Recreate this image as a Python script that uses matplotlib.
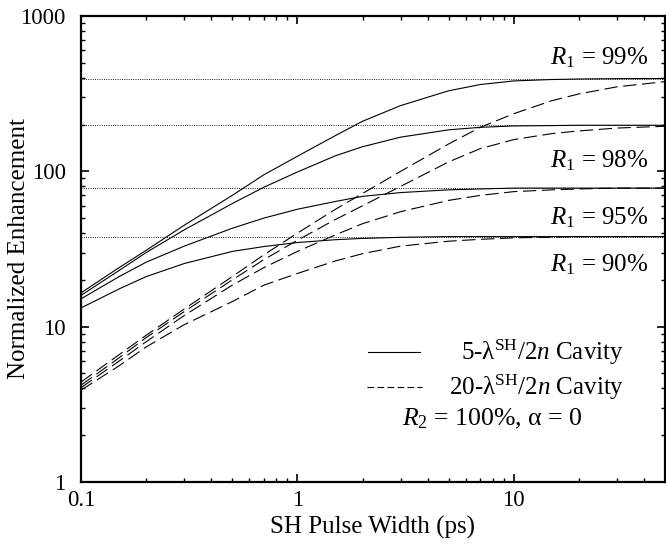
import matplotlib
matplotlib.use("Agg")
import matplotlib.pyplot as plt
from matplotlib.ticker import LogLocator, FixedLocator, FixedFormatter, NullFormatter

plt.rcParams['font.family'] = ['Liberation Serif', 'DejaVu Serif']
plt.rcParams['mathtext.fontset'] = 'custom'
plt.rcParams['mathtext.rm'] = 'Liberation Serif'
plt.rcParams['mathtext.it'] = 'Liberation Serif:italic'

# SH pulse width (ps)
pulse = [0.1, 0.15, 0.2, 0.3, 0.5, 0.7, 1, 1.5, 2, 3, 5, 7, 10, 15, 20, 30, 50]

# 5-lambda cavity (solid)
short_99 = [16.5, 24, 31, 45, 70, 95, 125, 170, 210, 265, 330, 362, 382, 390, 393, 395, 396]
short_98 = [15.9, 23, 30, 42, 62, 79, 99, 126, 144, 166, 185, 192, 196, 197, 198, 198, 198]
short_95 = [15.1, 21, 26, 33, 43, 50, 57, 64, 69, 73, 76, 77, 78, 78, 78, 78, 78]
short_90 = [13.2, 17.5, 21, 25.5, 30.5, 32.8, 34.8, 36.3, 37, 37.6, 38, 38, 38, 38, 38, 38, 38]

# 20-lambda cavity (dashed)
long_99 = [4.4, 6.6, 8.8, 13, 21, 29, 40, 57, 72, 100, 150, 192, 235, 285, 315, 350, 378]
long_98 = [4.2, 6.3, 8.5, 12.5, 20, 27, 36, 49, 60, 80, 115, 140, 160, 175, 182, 190, 195]
long_95 = [4.05, 6.0, 8.0, 11.8, 18.5, 24, 30.5, 39, 46, 55, 65, 70, 74, 76, 77, 78, 78]
long_90 = [3.9, 5.6, 7.4, 10.3, 14.5, 18.5, 22, 26.5, 29.5, 33, 35.5, 36.5, 37.3, 37.7, 38, 38, 38]

# cw limits (dotted)
cw_limit = [395, 198, 78, 38]
r1_labels = ['$R_{\\mathrm{1}}$ = 99%', '$R_{\\mathrm{1}}$ = 98%',
             '$R_{\\mathrm{1}}$ = 95%', '$R_{\\mathrm{1}}$ = 90%']
r1_label_y = [537, 117, 50, 25]

fig = plt.figure(figsize=(6.66, 5.45), dpi=100)
ax = fig.add_axes([81 / 666, 1 - 482 / 545, 584 / 666, 466 / 545])

for v in cw_limit:
    ax.plot([0.1, 50], [v, v], color='black', lw=0.6, ls=(0, (1.2, 1.5)))

for ys in [short_99, short_98, short_95, short_90]:
    ax.plot(pulse, ys, color='black', lw=0.8)
for ys in [long_99, long_98, long_95, long_90]:
    ax.plot(pulse, ys, color='black', lw=0.8, ls=(0, (12, 5)))

ax.set_xscale('log')
ax.set_yscale('log')
ax.set_xlim(0.1, 50)
ax.set_ylim(1, 1000)

ax.xaxis.set_major_locator(FixedLocator([0.1, 1, 10]))
ax.xaxis.set_major_formatter(FixedFormatter(['0.1', '1', '10']))
ax.yaxis.set_major_locator(FixedLocator([1, 10, 100, 1000]))
ax.yaxis.set_major_formatter(FixedFormatter(['1', '10', '100', '1000']))
ax.xaxis.set_minor_locator(LogLocator(base=10, subs=range(2, 10), numticks=20))
ax.yaxis.set_minor_locator(LogLocator(base=10, subs=range(2, 10), numticks=20))
ax.xaxis.set_minor_formatter(NullFormatter())
ax.yaxis.set_minor_formatter(NullFormatter())

ax.tick_params(which='both', direction='in', top=True, right=True, labelsize=16.5)
ax.tick_params(which='major', length=6, width=1.2)
ax.tick_params(which='minor', length=3, width=1)
ax.tick_params(axis='x', pad=6)
ax.tick_params(axis='y', pad=11)
for s in ax.spines.values():
    s.set_linewidth(1.6)

ax.set_xlabel('SH Pulse Width (ps)', fontsize=18, labelpad=3)
ax.set_ylabel('Normalized Enhancement', fontsize=18)
ax.yaxis.set_label_coords(-0.088, 0.5)

for lab, y in zip(r1_labels, r1_label_y):
    ax.text(42, y, lab, fontsize=18, ha='right', va='center')

# legend drawn by hand
ax.plot([0.491, 0.58], [0.279, 0.279], color='black', lw=0.8, transform=ax.transAxes)
ax.plot([0.490, 0.584], [0.204, 0.204], color='black', lw=0.8, ls=(0, (6, 3)),
        transform=ax.transAxes)
ax.text(0.93, 0.279, '5-λ$^{\\mathrm{SH}}$/2$n$ Cavity', fontsize=18,
        ha='right', va='center', transform=ax.transAxes)
ax.text(0.93, 0.204, '20-λ$^{\\mathrm{SH}}$/2$n$ Cavity', fontsize=18,
        ha='right', va='center', transform=ax.transAxes)
ax.text(0.705, 0.135, '$R_{\\mathrm{2}}$ = 100%, α = 0', fontsize=18.5,
        ha='center', va='center', transform=ax.transAxes)

fig.savefig('out.png', dpi=100)
